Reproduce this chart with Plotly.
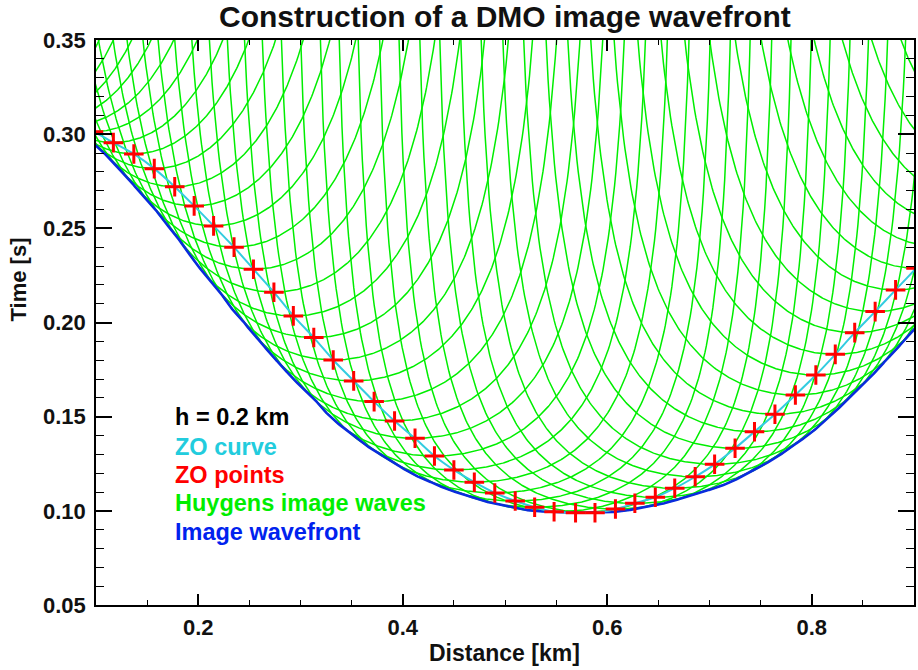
import numpy as np
import plotly.graph_objects as go

# Half-offset of the common-offset section (km)
HALF_OFFSET = 0.2

# Zero-offset (ZO) points: midpoint distance (km) and two-way time (s)
zo_x = [0.000, 0.019, 0.039, 0.058, 0.078, 0.0975,
        0.117, 0.137, 0.157, 0.177, 0.196, 0.215, 0.235, 0.254, 0.274, 0.293,
        0.313, 0.332, 0.352, 0.372, 0.392, 0.412, 0.431, 0.450, 0.470, 0.490,
        0.510, 0.529, 0.548, 0.569, 0.588, 0.608, 0.627, 0.647, 0.666, 0.686,
        0.705, 0.725, 0.744, 0.764, 0.784, 0.804, 0.823, 0.842, 0.862, 0.882,
        0.902, 0.922, 0.941, 0.961, 0.981, 1.000]
zo_t = [0.300, 0.305, 0.307, 0.307, 0.305, 0.3013,
        0.2955, 0.2895, 0.2817, 0.2721, 0.2619, 0.2513, 0.2400, 0.2283, 0.2161, 0.2035,
        0.1920, 0.1801, 0.1690, 0.1580, 0.1477, 0.1385, 0.1291, 0.1217, 0.1152, 0.1095,
        0.1052, 0.1019, 0.0995, 0.0990, 0.0990, 0.1010, 0.1040, 0.1072, 0.1120, 0.1181,
        0.1247, 0.1332, 0.1420, 0.1513, 0.1615, 0.1721, 0.1831, 0.1946, 0.2058, 0.2173,
        0.2288, 0.2405, 0.2524, 0.2645, 0.2767, 0.2890]

# Axis ticks
x_tickvals = [0.2, 0.4, 0.6, 0.8]
x_ticktext = ["0.2", "0.4", "0.6", "0.8"]
y_tickvals = [0.05, 0.10, 0.15, 0.20, 0.25, 0.30, 0.35]
y_ticktext = ["0.05", "0.10", "0.15", "0.20", "0.25", "0.30", "0.35"]

# Legend-style labels and their colours
label_texts = ["h = 0.2 km", "ZO curve", "ZO points", "Huygens image waves", "Image wavefront"]
label_colors = ["#000000", "#22CCDD", "#FF0000", "#00EE00", "#0022EE"]
label_y = [0.150, 0.134, 0.119, 0.104, 0.089]

X_RANGE = [0.1, 0.9]
Y_RANGE = [0.05, 0.35]
T_CUT = 0.37

FONT = "Liberation Sans, Arial, Helvetica, sans-serif"

x0 = np.asarray(zo_x)
t0 = np.asarray(zo_t)


def image_wave(xc, tc, x):
    """Huygens image wave of one ZO point: t = t0 * h / sqrt(h^2 - (x - x0)^2)."""
    return tc * HALF_OFFSET / np.sqrt(HALF_OFFSET ** 2 - (x - xc) ** 2)


# Huygens image waves, one curve per ZO point, joined with gaps
gx, gy = [], []
for xc, tc in zip(x0, t0):
    dmax = HALF_OFFSET * np.sqrt(1.0 - (tc / T_CUT) ** 2)
    xs = np.linspace(xc - dmax, xc + dmax, 301)
    ts = image_wave(xc, tc, xs)
    gx.extend(xs.tolist() + [None])
    gy.extend(ts.tolist() + [None])

# Image wavefront: envelope (lower bound) of all Huygens image waves
ex = np.linspace(X_RANGE[0] - 0.005, X_RANGE[1] + 0.005, 1601)
et = np.full_like(ex, np.inf)
for xc, tc in zip(x0, t0):
    inside = np.abs(ex - xc) < HALF_OFFSET * 0.9999
    et[inside] = np.minimum(et[inside], image_wave(xc, tc, ex[inside]))

fig = go.Figure()

fig.add_trace(go.Scatter(
    x=gx, y=gy, mode="lines",
    line=dict(color="#00EE00", width=1.5),
    hoverinfo="skip", name="Huygens image waves",
))
fig.add_trace(go.Scatter(
    x=ex, y=et, mode="lines",
    line=dict(color="#0A2BDD", width=2.6),
    name="Image wavefront",
))
fig.add_trace(go.Scatter(
    x=zo_x, y=zo_t, mode="lines",
    line=dict(color="#33CCE0", width=2, shape="spline", smoothing=0.6),
    name="ZO curve",
))
fig.add_trace(go.Scatter(
    x=zo_x, y=zo_t, mode="markers",
    marker=dict(symbol="cross-thin", size=14,
                line=dict(color="#FF0000", width=3)),
    name="ZO points",
))

axis_common = dict(
    showline=True, linecolor="#000000", linewidth=1.5, mirror="ticks",
    showgrid=False, zeroline=False, ticks="inside", tickcolor="#000000",
    tickfont=dict(family=FONT, size=22, color="#111111", weight="bold"),
)

fig.update_xaxes(
    range=X_RANGE, tickvals=x_tickvals, ticktext=x_ticktext,
    ticklen=11, tickwidth=1.5, ticklabelstandoff=2,
    minor=dict(dtick=0.05, tick0=0.0, ticks="inside", ticklen=5,
               tickcolor="#000000", tickwidth=1),
    **axis_common,
)
fig.update_yaxes(
    range=Y_RANGE, tickvals=y_tickvals, ticktext=y_ticktext,
    ticklen=16, tickwidth=1.5, ticklabelstandoff=4,
    minor=dict(dtick=0.01, tick0=0.0, ticks="inside", ticklen=8,
               tickcolor="#000000", tickwidth=1),
    **axis_common,
)

annotations = []
for txt, col, yy in zip(label_texts, label_colors, label_y):
    annotations.append(dict(
        x=0.094, y=yy, xref="paper", yref="y", text=txt, showarrow=False,
        xanchor="left", yanchor="middle",
        font=dict(family=FONT, size=23.5, color=col, weight="bold"),
    ))
annotations.append(dict(
    x=0.4994, y=-0.085, xref="paper", yref="paper", text="Distance [km]",
    showarrow=False, xanchor="center", yanchor="middle",
    font=dict(family=FONT, size=23, color="#111111", weight="bold"),
))
annotations.append(dict(
    x=-0.095, y=0.223, xref="paper", yref="y", text="Time [s]",
    showarrow=False, xanchor="center", yanchor="middle", textangle=-90,
    font=dict(family=FONT, size=22, color="#111111", weight="bold"),
))

fig.update_layout(
    width=918, height=670,
    margin=dict(l=96, r=2, t=40, b=65),
    paper_bgcolor="#FFFFFF", plot_bgcolor="#FFFFFF",
    showlegend=False,
    title=dict(
        text="Construction of a DMO image wavefront",
        x=0.55, xref="container", xanchor="center",
        y=0.975, yref="container", yanchor="middle",
        font=dict(family=FONT, size=30, color="#111111", weight="bold"),
    ),
    annotations=annotations,
)

fig.write_html("out.html")
